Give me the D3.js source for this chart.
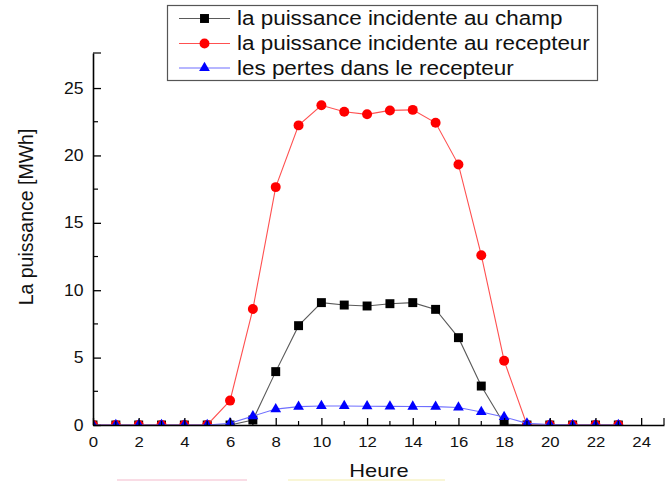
<!DOCTYPE html>
<html>
<head>
<meta charset="utf-8">
<script src="https://cdn.jsdelivr.net/npm/d3@7/dist/d3.min.js"></script>
<style>
  html, body { margin: 0; padding: 0; background: #fff; }
  svg { display: block; font-family: "Liberation Sans", Arial, sans-serif; }
</style>
</head>
<body>
<svg id="chart" width="672" height="481"></svg>
<script>
// Hours of the day
const hours = [0,1,2,3,4,5,6,7,8,9,10,11,12,13,14,15,16,17,18,19,20,21,22,23];

// Power incident on the field [MWh]
const champ = [0,0,0,0,0,0,0,0.37,3.96,7.37,9.08,8.9,8.83,9.0,9.08,8.58,6.48,2.89,0.07,0,0,0,0,0];

// Power incident on the receiver [MWh]
const recepteur = [0,0,0,0,0,0,1.81,8.6,17.65,22.23,23.72,23.24,23.05,23.34,23.38,22.42,19.32,12.6,4.77,0,0,0,0,0];

// Losses in the receiver [MWh]
const pertes = [0,0,0,0,0,0,0.13,0.66,1.18,1.36,1.41,1.41,1.39,1.38,1.37,1.36,1.3,0.97,0.6,0.12,0.04,0,0,0];

const seriesNames = [
  "la puissance incidente au champ",
  "la puissance incidente au recepteur",
  "les pertes dans le recepteur"
];

const xTicks = [0,2,4,6,8,10,12,14,16,18,20,22,24];
const yTicks = [0,5,10,15,20,25];

const svg = d3.select("#chart");

const x = d3.scaleLinear().domain([0, 25]).range([93, 664]);
const y = d3.scaleLinear().domain([0, 27.6]).range([425, 53]);

// Slightly widened lettering
function widen(sel, k) {
  sel.each(function () {
    const w = this.getComputedTextLength();
    d3.select(this).attr("textLength", w * k).attr("lengthAdjust", "spacingAndGlyphs");
  });
}

const styles = [
  { values: champ, line: "#5a5a5a", fill: "#000000", symbol: d3.symbolSquare, size: 80 },
  { values: recepteur, line: "#ff5050", fill: "#ff0000", symbol: d3.symbolCircle, size: 78 },
  { values: pertes, line: "#6f6fff", fill: "#0000ff", symbol: d3.symbolTriangle, size: 50 }
];

// Plot area clip
svg.append("clipPath").attr("id", "plot-clip")
  .append("rect").attr("x", 93).attr("y", 53).attr("width", 571).attr("height", 372);

// Series
const line = d3.line().x((d, i) => x(hours[i])).y(d => y(d));
const plot = svg.append("g").attr("clip-path", "url(#plot-clip)");
styles.forEach(s => {
  const g = plot.append("g");
  g.append("path").datum(s.values).attr("d", line)
    .attr("fill", "none").attr("stroke", s.line).attr("stroke-width", 1.1);
  g.selectAll("path.m").data(s.values).join("path").attr("class", "m")
    .attr("transform", (d, i) => `translate(${x(hours[i])},${y(d)})`)
    .attr("d", d3.symbol().type(s.symbol).size(s.size))
    .attr("fill", s.fill);
});

// Axes, ticks pointing inward
const xAxis = d3.axisBottom(x).tickValues(xTicks).tickSizeInner(-7).tickSizeOuter(0).tickPadding(11);
const gx = svg.append("g").attr("transform", "translate(0,425)").call(xAxis);
gx.select(".domain").attr("stroke", "#000").attr("stroke-width", 1.6);
gx.selectAll(".tick line").attr("stroke", "#000").attr("stroke-width", 1.3);
gx.selectAll(".tick text").attr("font-size", 15.5).attr("fill", "#111")
  .attr("font-family", "Liberation Sans, Arial, sans-serif");
widen(gx.selectAll(".tick text"), 1.08);

// Minor x ticks and end tick
const xMinor = d3.range(1, 25, 2).concat([25]);
svg.append("g").selectAll("line").data(xMinor).join("line")
  .attr("x1", d => x(d)).attr("x2", d => x(d))
  .attr("y1", 425).attr("y2", d => d === 25 ? 418 : 421)
  .attr("stroke", "#000").attr("stroke-width", 1.2);

const yAxis = d3.axisLeft(y).tickValues(yTicks).tickSizeInner(-8).tickSizeOuter(0).tickPadding(9.5);
const gy = svg.append("g").attr("transform", "translate(93,0)").call(yAxis);
gy.select(".domain").attr("stroke", "#000").attr("stroke-width", 1.6);
gy.selectAll(".tick line").attr("stroke", "#000").attr("stroke-width", 1.3);
gy.selectAll(".tick text").attr("font-size", 16).attr("fill", "#111")
  .attr("font-family", "Liberation Sans, Arial, sans-serif");
widen(gy.selectAll(".tick text"), 1.1);

// Minor y ticks and top tick
const yMinor = [2.5, 7.5, 12.5, 17.5, 22.5, 27.6];
svg.append("g").selectAll("line").data(yMinor).join("line")
  .attr("x1", 93).attr("x2", d => d === 27.6 ? 101 : 98)
  .attr("y1", d => y(d)).attr("y2", d => y(d))
  .attr("stroke", "#000").attr("stroke-width", 1.2);

// Axis titles
const xt = svg.append("text").attr("x", 379).attr("y", 476.5).attr("text-anchor", "middle")
  .attr("font-size", 19).attr("fill", "#111").text("Heure");
widen(xt, 1.15);
svg.append("text").attr("transform", "translate(33,217) rotate(-90)")
  .attr("text-anchor", "middle").attr("font-size", 19.5).attr("fill", "#111")
  .text("La puissance [MWh]");

// Legend
const lg = svg.append("g");
lg.append("rect").attr("x", 167.5).attr("y", 5.5).attr("width", 430).attr("height", 75)
  .attr("fill", "#fff").attr("stroke", "#555").attr("stroke-width", 1.2);
const rowY = [18.5, 43.5, 68];
styles.forEach((s, i) => {
  lg.append("line").attr("x1", 179).attr("x2", 230).attr("y1", rowY[i]).attr("y2", rowY[i])
    .attr("stroke", s.line).attr("stroke-width", 1.1);
  lg.append("path").attr("transform", `translate(204.5,${rowY[i]})`)
    .attr("d", d3.symbol().type(s.symbol).size(s.size)).attr("fill", s.fill);
  const t = lg.append("text").attr("x", 237).attr("y", rowY[i]).attr("dy", "0.35em")
    .attr("font-size", 19.5).attr("fill", "#111").text(seriesNames[i]);
  widen(t, 1.15);
});

// Faint strokes along the bottom edge
svg.append("line").attr("x1", 117).attr("x2", 247).attr("y1", 480).attr("y2", 480)
  .attr("stroke", "#f7d0dc").attr("stroke-width", 1.5);
svg.append("line").attr("x1", 288).attr("x2", 445).attr("y1", 480).attr("y2", 480)
  .attr("stroke", "#f7f3c8").attr("stroke-width", 1.5);
</script>
</body>
</html>
